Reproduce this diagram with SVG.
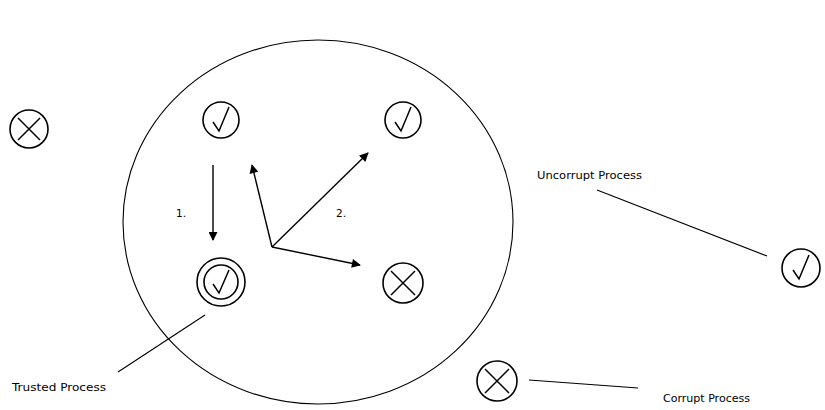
<svg xmlns="http://www.w3.org/2000/svg" width="825" height="410" viewBox="0 0 825 410">
<defs>
<style>
.c{fill:none;stroke:#000;stroke-width:1.6}
.m{fill:none;stroke:#000;stroke-width:1.5;stroke-linejoin:miter}
.l{fill:none;stroke:#000;stroke-width:1.1}
.a{fill:none;stroke:#000;stroke-width:1.4}
.t{font-family:"DejaVu Sans",Verdana,sans-serif;font-size:10.5px;fill:#000}
</style>
<marker id="ah" viewBox="0 0 10 10" refX="9" refY="5" markerWidth="10" markerHeight="9" markerUnits="userSpaceOnUse" orient="auto">
<path d="M0,0 L10,5 L0,10 z" fill="#000"/>
</marker>
</defs>
<rect width="825" height="410" fill="#fff"/>
<g id="group-circle"><ellipse class="l" cx="318" cy="222" rx="195" ry="182"/></g>
<g id="n-left-x"><circle class="c" cx="29" cy="129" r="19"/><path class="m" d="M18,118 L40,140 M40,118 L18,140"/></g>
<g id="n-top-left"><circle class="c" cx="221" cy="120" r="18"/><path class="m" d="M213,122 L219,131 L229,107"/></g>
<g id="n-top-right"><circle class="c" cx="403" cy="120" r="18"/><path class="m" d="M395,122 L401,131 L411,107"/></g>
<g id="n-trusted"><circle class="c" cx="221" cy="282" r="24"/><circle class="c" cx="221" cy="282" r="17"/><path class="m" d="M213,284 L219,293 L229,270"/></g>
<g id="n-inner-x"><circle class="c" cx="403" cy="283" r="20"/><path class="m" d="M391,271 L415,295 M415,271 L391,295"/></g>
<g id="n-uncorrupt"><circle class="c" cx="801" cy="268" r="19"/><path class="m" d="M793,270 L799,279 L809,255"/></g>
<g id="n-corrupt"><circle class="c" cx="497" cy="381" r="20"/><path class="m" d="M485,369 L509,393 M509,369 L485,393"/></g>
<g id="connectors">
<path class="a" d="M213,165 L213,240" marker-end="url(#ah)"/>
<path class="a" d="M272,247 L252,165" marker-end="url(#ah)"/>
<path class="a" d="M272,247 L368,153" marker-end="url(#ah)"/>
<path class="a" d="M272,247 L360,265" marker-end="url(#ah)"/>
<path class="l" d="M597,190 L767,256"/>
<path class="l" d="M205,315 L118,372"/>
<path class="l" d="M529,380 L638,388"/>
</g>
<g id="labels">
<text class="t" x="176" y="217">1.</text>
<text class="t" x="336" y="217">2.</text>
<text class="t" x="537" y="179" textLength="105" lengthAdjust="spacingAndGlyphs">Uncorrupt Process</text>
<text class="t" x="12" y="391" textLength="94" lengthAdjust="spacingAndGlyphs">Trusted Process</text>
<text class="t" x="663" y="402" textLength="87" lengthAdjust="spacingAndGlyphs">Corrupt Process</text>
</g>
</svg>
